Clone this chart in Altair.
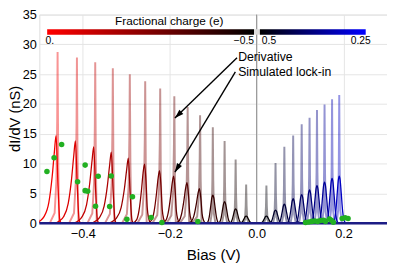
import altair as alt
import pandas as pd

FONT = "Liberation Sans"

# ---------------- peak data ----------------
left_bias = [-0.507, -0.458, -0.4135, -0.3714, -0.3309, -0.2918, -0.2564, -0.2219,
             -0.1894, -0.1587, -0.1301, -0.1008, -0.0737, -0.0483, -0.0241]
left_spike = [29.5, 28.7, 27.8, 27.0, 26.0, 25.0, 23.8, 22.6, 21.3, 19.5, 18.1, 16.1, 13.8, 10.7, 6.5]
left_lockin = [15.6, 14.7, 13.8, 12.8, 11.9, 10.9, 9.9, 8.8, 7.9, 6.8, 5.8, 4.7, 3.6, 2.4, 1.2]
left_charge = [0.0, -0.03, -0.07, -0.12, -0.16, -0.20, -0.24, -0.27, -0.31, -0.34, -0.37,
               -0.40, -0.43, -0.46, -0.48]
left_shape = ["A", "A", "A", "A", "A", "A", "B", "B", "B", "B", "B", "C", "C", "C", "C"]

right_bias = [0.0225, 0.0435, 0.0638, 0.0841, 0.1037, 0.1218, 0.1389, 0.1563, 0.1736, 0.1901]
right_spike = [6.3, 10.1, 12.8, 14.7, 16.6, 17.7, 19.0, 19.9, 20.8, 21.5]
right_lockin = [1.2, 2.2, 3.2, 4.1, 4.8, 5.6, 6.3, 6.9, 7.5, 7.9]
right_charge = [0.49, 0.46, 0.44, 0.42, 0.40, 0.38, 0.37, 0.35, 0.33, 0.31]
right_shape = ["C"] * 10

# peak profiles (offset in V, relative height)
lockin_dx = {
    "A": [-0.0485, -0.0395, -0.0312, -0.020, -0.0125, -0.0073, -0.0035, 0.001, 0.0048, 0.0078],
    "B": [-0.0285, -0.0195, -0.0141, -0.0083, -0.0049, -0.0015, 0.0019, 0.0046, 0.0084, 0.012],
    "C": [-0.0158, -0.0113, -0.0079, -0.0045, -0.0023, 0.0, 0.0023, 0.0045, 0.0079, 0.0113, 0.0158],
}
lockin_rel = {
    "A": [0.0, 0.03, 0.075, 0.24, 0.53, 0.82, 1.0, 0.42, 0.05, 0.0],
    "B": [0.0, 0.06, 0.22, 0.58, 0.85, 1.0, 0.7, 0.27, 0.07, 0.0],
    "C": [0.0, 0.05, 0.25, 0.65, 0.9, 1.0, 0.9, 0.65, 0.25, 0.05, 0.0],
}
spike_dx = {
    "A": [-0.018, -0.0068, -0.0027, -0.0009, 0.0, 0.00135, 0.0034],
    "B": [-0.018, -0.0068, -0.0027, -0.0009, 0.0, 0.00135, 0.0034],
    "C": [-0.006, -0.0025, -0.001, 0.0, 0.001, 0.0025, 0.006],
}
spike_rel = {
    "A": [0.0, 0.06, 0.25, 0.6, 1.0, 0.4, 0.0],
    "B": [0.0, 0.06, 0.25, 0.6, 1.0, 0.4, 0.0],
    "C": [0.0, 0.1, 0.45, 1.0, 0.45, 0.1, 0.0],
}

# green measured points
dot_x = [-0.4825, -0.466, -0.4487, -0.412, -0.3946, -0.3946, -0.3887, -0.3707, -0.3646,
         -0.3382, -0.3346, -0.2985, -0.2857, -0.2428, -0.218, -0.1353,
         0.1127, 0.1202, 0.1269, 0.1337, 0.1405, 0.1472, 0.154, 0.1585, 0.1675, 0.172,
         0.1765, 0.1968, 0.2036, 0.2104]
dot_y = [8.67, 10.96, 13.2, 6.95, 9.74, 5.46, 5.35, 2.84, 7.87, 2.78, 7.91, 0.64, 4.45,
         0.96, 0.1, 0.27,
         0.1, 0.2, 0.3, 0.35, 0.3, 0.45, 0.5, 0.3, 0.7, 0.5, 0.15, 0.8, 0.9, 0.8]

# ---------------- build tables ----------------
biases = left_bias + right_bias
spikes = left_spike + right_spike
locks = left_lockin + right_lockin
charges = left_charge + right_charge
shapes = left_shape + right_shape

lock_rows, spike_rows = [], []
for i, (b, hs, hl, q, sh) in enumerate(zip(biases, spikes, locks, charges, shapes)):
    for dx, r in zip(lockin_dx[sh], lockin_rel[sh]):
        lock_rows.append({"peak": i, "x": b + dx, "y": hl * r, "charge": q})
    for dx, r in zip(spike_dx[sh], spike_rel[sh]):
        spike_rows.append({"peak": i, "x": b + dx, "y": hs * r, "charge": q})
lock_df = pd.DataFrame(lock_rows)
spike_df = pd.DataFrame(spike_rows)
dots_df = pd.DataFrame({"x": dot_x, "y": dot_y})

# ---------------- scales / encodings ----------------
xs = alt.Scale(domain=[-0.5, 0.3], nice=False, zero=False)
ys = alt.Scale(domain=[0, 35], nice=False, zero=False)
cs = alt.Scale(domain=[-0.5, 0, 0.25, 0.5],
               range=["#000000", "#ff0000", "#0000ff", "#000000"], interpolate="rgb")

xaxis = alt.Axis(values=[-0.4, -0.2, 0.0, 0.2], format=".1f", grid=True, gridColor="#e4e4e4",
                 ticks=False, domain=False, labelFontSize=13, labelColor="black",
                 labelPadding=5, labelFont=FONT, titleFont=FONT, titleFontSize=15.5,
                 titleFontWeight="normal", titleColor="black", titleY=25,
                 titleBaseline="top")
yaxis = alt.Axis(values=[0, 5, 10, 15, 20, 25, 30, 35], grid=True, gridColor="#e4e4e4",
                 ticks=False, domain=False, labelFontSize=13, labelColor="black",
                 labelPadding=3, labelFont=FONT, titleFont=FONT, titleFontSize=15,
                 titleFontWeight="normal", titleColor="black", titleAngle=270,
                 titleX=-32, titleY=106, titleBaseline="top", titleAlign="center")

X = alt.X("x:Q", scale=xs, axis=xaxis, title="Bias (V)")
Y = alt.Y("y:Q", scale=ys, axis=yaxis, title="dI/dV (nS)")

zero_line = alt.Chart(pd.DataFrame({"x": [0.0]})).mark_rule(
    color="#8c8c8c", strokeWidth=1).encode(x=X)

spike_layer = alt.Chart(spike_df).mark_line(strokeWidth=2, opacity=0.42, clip=True).encode(
    x=X, y=Y, detail="peak:N",
    color=alt.Color("charge:Q", scale=cs, legend=None))

lock_layer = alt.Chart(lock_df).mark_line(strokeWidth=1.3, interpolate="monotone",
                                          clip=True).encode(
    x=X, y=Y, detail="peak:N",
    color=alt.Color("charge:Q", scale=cs, legend=None))

baseline = alt.Chart(pd.DataFrame({"y": [0.0]})).mark_rule(
    color="#1c1c85", strokeWidth=2.5).encode(y=Y)

dots = alt.Chart(dots_df).mark_circle(size=32, color="#22b022", opacity=1).encode(x=X, y=Y)

# ---------------- colour bar ----------------
bar_lo, bar_hi = 31.63, 32.54
cb_left = alt.Chart(pd.DataFrame({"x": [-0.482], "x2": [-0.006], "y": [bar_lo], "y2": [bar_hi]})
                    ).mark_rect(fill=alt.LinearGradient(
                        gradient="linear", x1=0, x2=1, y1=0, y2=0,
                        stops=[alt.GradientStop(color="#ff0000", offset=0),
                               alt.GradientStop(color="#000000", offset=1)])
                    ).encode(x=X, x2="x2:Q", y=Y, y2="y2:Q")
cb_gap = alt.Chart(pd.DataFrame({"x": [-0.006], "x2": [0.0075], "y": [bar_lo], "y2": [bar_hi]})
                   ).mark_rect(fill="#dcdcdc").encode(x=X, x2="x2:Q", y=Y, y2="y2:Q")
cb_right = alt.Chart(pd.DataFrame({"x": [0.0075], "x2": [0.251], "y": [bar_lo], "y2": [bar_hi]})
                     ).mark_rect(fill=alt.LinearGradient(
                         gradient="linear", x1=0, x2=1, y1=0, y2=0,
                         stops=[alt.GradientStop(color="#000000", offset=0),
                                alt.GradientStop(color="#0000ff", offset=1)])
                     ).encode(x=X, x2="x2:Q", y=Y, y2="y2:Q")

cb_labels = pd.DataFrame({
    "x": [-0.486, -0.006, 0.012, 0.2396],
    "y": [30.56, 30.56, 30.56, 30.56],
    "t": ["0.", "\u22120.5", "0.5", "0.25"],
    "a": ["left", "right", "left", "center"],
})
cb_text_layers = []
for al in ["left", "right", "center"]:
    cb_text_layers.append(
        alt.Chart(cb_labels[cb_labels["a"] == al]).mark_text(
            align=al, baseline="middle", fontSize=10.5, font=FONT, color="black"
        ).encode(x=X, y=Y, text="t:N"))
cb_title = alt.Chart(pd.DataFrame({"x": [-0.201], "y": [33.85], "t": ["Fractional charge (e)"]})
                     ).mark_text(align="center", baseline="middle", fontSize=12, font=FONT,
                                 color="black").encode(x=X, y=Y, text="t:N")

# ---------------- annotations ----------------
ann_text = alt.Chart(pd.DataFrame({"x": [-0.0425, -0.0425], "y": [27.8, 25.4],
                                   "t": ["Derivative", "Simulated lock-in"]})
                     ).mark_text(align="left", baseline="middle", fontSize=12.5, font=FONT,
                                 color="black").encode(x=X, y=Y, text="t:N")
arrow_df = pd.DataFrame({"arrow": [1, 1, 2, 2],
                         "x": [-0.0451, -0.188, -0.0489, -0.188],
                         "y": [27.75, 17.66, 25.4, 8.56]})
arrows = alt.Chart(arrow_df).mark_line(color="black", strokeWidth=1.4).encode(
    x=X, y=Y, detail="arrow:N")
heads = alt.Chart(pd.DataFrame({"x": [-0.188, -0.188], "y": [17.66, 8.56], "ang": [226.5, 211.0]})
                  ).mark_point(shape="M0,0L0.65,2L-0.65,2Z", filled=True, size=81,
                               color="black", opacity=1, strokeWidth=0).encode(
    x=X, y=Y, angle=alt.Angle("ang:Q", scale=None))

chart = alt.layer(
    zero_line, spike_layer, lock_layer, baseline, dots,
    cb_left, cb_gap, cb_right, *cb_text_layers, cb_title,
    arrows, heads, ann_text,
).properties(
    width=355, height=213,
    padding={"left": 32, "top": 4, "right": 0, "bottom": 40},
    autosize=alt.AutoSizeParams(type="none"),
).configure_view(
    stroke="#aaaaaa", strokeWidth=1
).configure(font=FONT)

chart.save("out.html", embed_options={"renderer": "svg", "actions": False})
